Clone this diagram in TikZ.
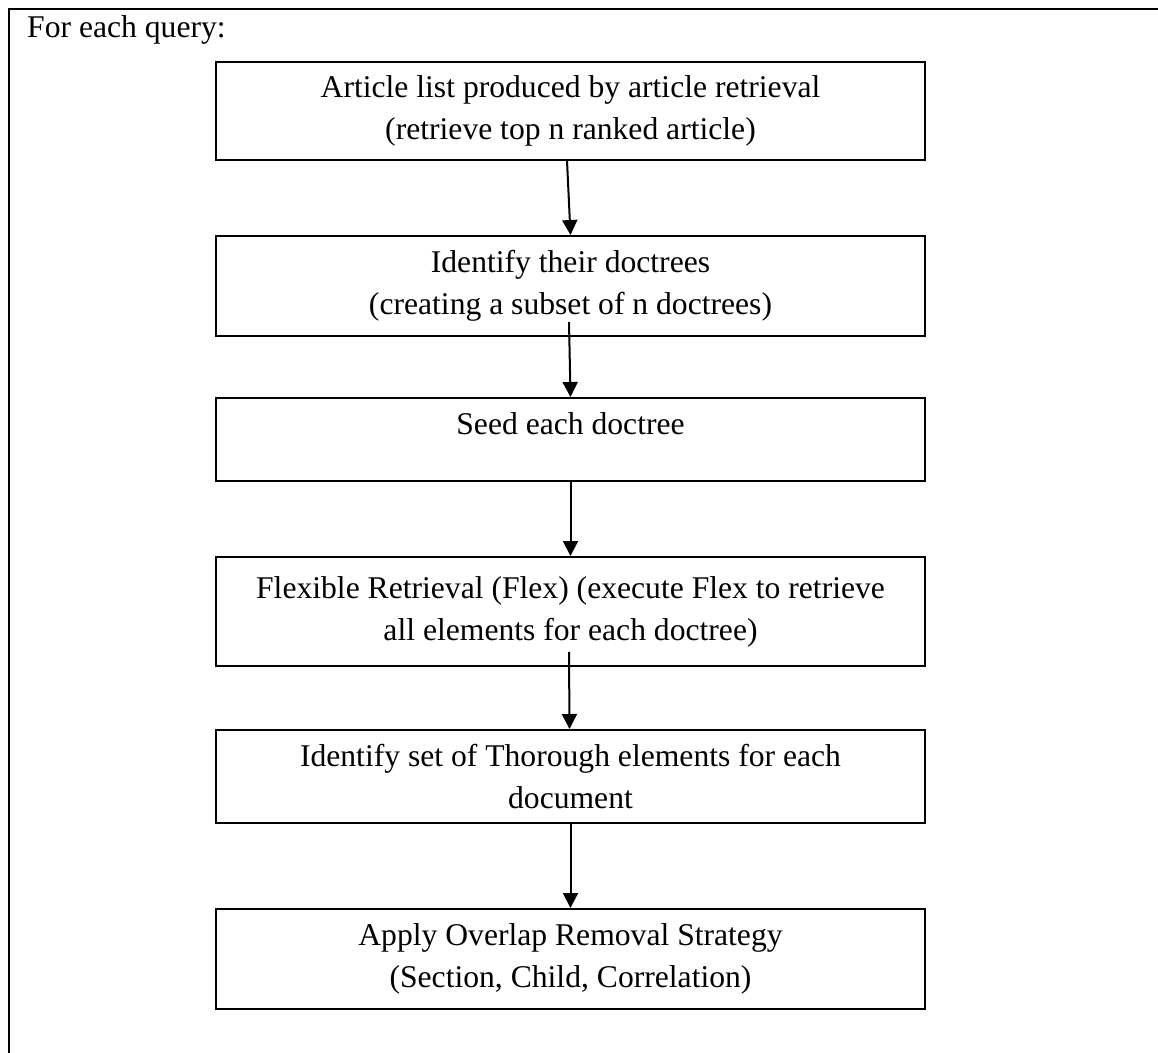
\documentclass[tikz,border=0pt]{standalone}
\usepackage{fontspec}
\setmainfont{Liberation Serif}
\usepackage{tikz}
\usetikzlibrary{arrows.meta, positioning, shapes}

\begin{document}
\begin{tikzpicture}[x=0.02cm,y=-0.02cm,
font=\fontsize{18}{24}\selectfont,
stage/.style={draw, line width=0.04cm, minimum width=14.18cm, inner sep=0pt, align=center},
flow/.style={line width=0.04cm, -{Triangle[length=0.3cm,width=0.3cm]}}]
\useasboundingbox (0,0) rectangle (1158,1053);
\draw[line width=0.05cm] (9,1060) -- (9,9) -- (1160,9);
\node[anchor=west] (query) at (21,30) {For each query:};

\node[stage, minimum height=1.95cm] (list) at (570.5,111) {Article list produced by article retrieval\\(retrieve top n ranked article)};
\node[stage, minimum height=2cm] (trees) at (570.5,286) {Identify their doctrees\\(creating a subset of n doctrees)};
\node[stage, minimum height=1.66cm] (seed) at (570.5,439.5) {Seed each doctree\\[-0.2cm]\mbox{}};
\node[stage, minimum height=2.18cm] (flex) at (570.5,611.5) {Flexible Retrieval (Flex) (execute Flex to retrieve\\all elements for each doctree)};
\node[stage, minimum height=1.86cm] (thorough) at (570.5,776.5) {Identify set of Thorough elements for each\\document};
\node[stage, minimum height=2cm] (overlap) at (570.5,959) {Apply Overlap Removal Strategy\\(Section, Child, Correlation)};

\draw[flow] ([xshift=-0.07cm]list.south) -- (trees.north);
\draw[flow] ([xshift=-0.03cm,yshift=0.3cm]trees.south) -- (seed.north);
\draw[flow] (seed.south) -- (flex.north);
\draw[flow] ([xshift=-0.03cm,yshift=0.3cm]flex.south) -- ([xshift=-0.02cm]thorough.north);
\draw[flow] (thorough.south) -- (overlap.north);
\end{tikzpicture}
\end{document}
